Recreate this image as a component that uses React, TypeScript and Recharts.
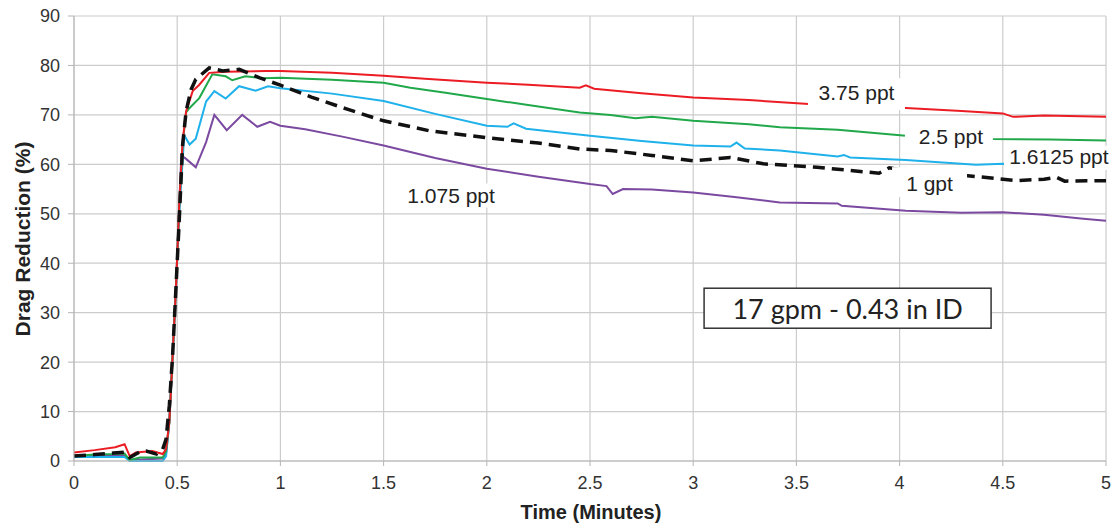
import { LineChart, Line, XAxis, YAxis, CartesianGrid, ReferenceDot, Label } from 'recharts';

// Drag reduction (%) vs time (minutes), digitised as [time, value]
const ppt375: [number, number][] = [
  [0, 1.7], [0.1, 2.2], [0.2, 2.8], [0.245, 3.4], [0.27, 1.0], [0.3, 1.7], [0.38, 2.0], [0.43, 1.4],
  [0.446, 2.4], [0.462, 7.9], [0.478, 21.5], [0.494, 35], [0.51, 52], [0.526, 64.5], [0.543, 70.7],
  [0.575, 74.8], [0.607, 76.1], [0.655, 78.5], [0.735, 78.7], [0.93, 78.9], [1.0, 78.9], [1.25, 78.5],
  [1.5, 77.9], [1.7, 77.3], [2.0, 76.5], [2.2, 76.1], [2.45, 75.5], [2.48, 76.0], [2.52, 75.3],
  [2.75, 74.4], [3.0, 73.5], [3.27, 73.0], [3.56, 72.2], [4.03, 71.4], [4.3, 70.8], [4.5, 70.3],
  [4.55, 69.6], [4.7, 69.9], [5.0, 69.6],
];

const ppt25: [number, number][] = [
  [0, 1.0], [0.1, 1.3], [0.2, 1.4], [0.245, 1.5], [0.27, 0.2], [0.32, 0.7], [0.43, 0.7], [0.446, 2],
  [0.462, 7.9], [0.478, 21.5], [0.494, 35], [0.51, 52], [0.526, 64], [0.543, 70.5], [0.56, 71.4],
  [0.607, 73.4], [0.67, 78.2], [0.735, 77.8], [0.767, 77.0], [0.83, 77.8], [0.91, 77.4], [1.0, 77.5],
  [1.25, 77.1], [1.5, 76.5], [1.63, 75.5], [1.8, 74.5], [2.0, 73.2], [2.2, 72.0], [2.45, 70.5],
  [2.6, 70.0], [2.72, 69.3], [2.8, 69.6], [3.0, 68.8], [3.27, 68.1], [3.42, 67.5], [3.7, 67.0],
  [4.03, 65.8], [4.45, 65.1], [4.73, 65.0], [5.0, 64.8],
];

const ppt16125: [number, number][] = [
  [0, 0.8], [0.2, 0.8], [0.245, 0.8], [0.27, 0], [0.43, 0], [0.446, 1], [0.462, 7.9], [0.478, 21.5],
  [0.494, 35], [0.51, 50], [0.534, 65.9], [0.56, 64.0], [0.59, 65.2], [0.64, 72.7], [0.68, 74.8],
  [0.735, 73.3], [0.8, 75.8], [0.88, 74.9], [0.94, 75.8], [1.0, 75.4], [1.25, 74.3], [1.5, 72.8],
  [1.75, 70.2], [2.0, 67.8], [2.1, 67.6], [2.13, 68.3], [2.19, 67.2], [2.5, 65.8], [2.75, 64.7],
  [3.0, 63.8], [3.18, 63.6], [3.21, 64.4], [3.25, 63.2], [3.42, 62.8], [3.7, 61.6], [3.73, 61.9],
  [3.76, 61.4], [4.03, 60.9], [4.37, 59.9], [4.5, 60.1], [5.0, 60.0],
];

const gpt1: [number, number][] = [
  [0, 1.0], [0.1, 1.3], [0.19, 1.6], [0.245, 1.8], [0.27, 0.7], [0.32, 1.9], [0.35, 2.0], [0.4, 1.4],
  [0.43, 2.4], [0.446, 4.4], [0.462, 11.3], [0.478, 21.5], [0.494, 35], [0.51, 48.8], [0.526, 63.8],
  [0.543, 70.7], [0.567, 75.1], [0.59, 77.2], [0.655, 79.5], [0.72, 78.9], [0.8, 79.2], [0.9, 77.5],
  [1.0, 76.0], [1.15, 73.6], [1.32, 71.2], [1.5, 68.8], [1.72, 66.8], [2.0, 65.4], [2.25, 64.3],
  [2.45, 63.1], [2.6, 62.8], [2.8, 61.8], [3.0, 60.7], [3.18, 61.4], [3.34, 60.1], [3.6, 59.4],
  [3.9, 58.2], [3.95, 59.3], [4.05, 58.6], [4.33, 57.7], [4.57, 56.7], [4.7, 57.0], [4.76, 57.4],
  [4.8, 56.6], [5.0, 56.7],
];

const ppt1075: [number, number][] = [
  [0, 1.0], [0.2, 1.2], [0.245, 1.2], [0.27, 0.2], [0.43, 0.5], [0.446, 1.5], [0.462, 7.9],
  [0.478, 21.5], [0.494, 35], [0.51, 52], [0.52, 61.8], [0.543, 61.1], [0.59, 59.4], [0.64, 64.5],
  [0.68, 70.0], [0.74, 66.9], [0.815, 70.0], [0.888, 67.6], [0.95, 68.6], [1.0, 67.8], [1.12, 67.1],
  [1.3, 65.6], [1.5, 63.8], [1.75, 61.3], [2.0, 59.1], [2.25, 57.5], [2.5, 56.0], [2.58, 55.6],
  [2.61, 54.0], [2.66, 55.0], [2.8, 54.9], [3.0, 54.3], [3.2, 53.4], [3.42, 52.3], [3.7, 52.1],
  [3.72, 51.6], [4.03, 50.6], [4.3, 50.2], [4.5, 50.3], [4.7, 49.8], [4.89, 49.0], [5.0, 48.6],
];

const xTicks = [0, 0.5, 1, 1.5, 2, 2.5, 3, 3.5, 4, 4.5, 5];
const yTicks = [0, 10, 20, 30, 40, 50, 60, 70, 80, 90];

const toPoints = (arr: [number, number][]) => arr.map(([t, v]) => ({ t, v }));

const FONT = '"Liberation Sans", Arial, sans-serif';
const AXIS = '#b5b5b5';

// white box with text drawn at a data point, hides the line under it
function tag(text: string, w: number, h: number, dx = 0, dy = 0, boxed = false) {
  return (props: any) => {
    const { cx, cy } = props;
    return (
      <g>
        <rect
          x={cx - w / 2}
          y={cy - h / 2}
          width={w}
          height={h}
          fill="#fff"
          stroke={boxed ? '#333' : 'none'}
          strokeWidth={boxed ? 1.5 : 0}
        />
        <text
          x={cx + dx}
          y={cy + dy}
          textAnchor="middle"
          dominantBaseline="central"
          fontFamily={boxed ? 'Lato, "Open Sans", sans-serif' : FONT}
          fontSize={boxed ? 27 : 21}
          fill="#222"
        >
          {text}
        </text>
      </g>
    );
  };
}

export default function App() {
  return (
    <div style={{ position: 'absolute', left: 0, top: 0, background: '#fff' }}>
      <LineChart width={1116} height={529} margin={{ top: 16, right: 10, bottom: 0, left: 14 }}>
        <CartesianGrid stroke="#cccccc" strokeWidth={1.2} />
        <XAxis
          dataKey="t"
          type="number"
          domain={[0, 5]}
          ticks={xTicks}
          height={68}
          tickSize={5}
          tickMargin={10}
          stroke={AXIS}
          tick={{ fill: '#333', fontSize: 18, fontFamily: FONT }}
        >
          <Label
            content={() => (
              <text x={591} y={519} textAnchor="middle" fontFamily={FONT} fontSize={20} fontWeight="bold" fill="#222">
                Time (Minutes)
              </text>
            )}
          />
        </XAxis>
        <YAxis
          type="number"
          domain={[0, 90]}
          ticks={yTicks}
          width={60}
          tickSize={6}
          tickMargin={8}
          stroke={AXIS}
          tick={{ fill: '#333', fontSize: 18, fontFamily: FONT }}
        >
          <Label
            content={() => (
              <text
                x={22}
                y={239}
                transform="rotate(-90, 22, 239)"
                textAnchor="middle"
                dominantBaseline="central"
                fontFamily={FONT}
                fontSize={21}
                fontWeight="bold"
                fill="#222"
              >
                Drag Reduction (%)
              </text>
            )}
          />
        </YAxis>
        <Line data={toPoints(ppt1075)} dataKey="v" stroke="#7b4aa0" strokeWidth={2} dot={false} isAnimationActive={false} />
        <Line data={toPoints(ppt16125)} dataKey="v" stroke="#1fb1ea" strokeWidth={2} dot={false} isAnimationActive={false} />
        <Line data={toPoints(ppt25)} dataKey="v" stroke="#20a84a" strokeWidth={2} dot={false} isAnimationActive={false} />
        <Line data={toPoints(ppt375)} dataKey="v" stroke="#ec1c24" strokeWidth={2} dot={false} isAnimationActive={false} />
        <Line
          data={toPoints(gpt1)}
          dataKey="v"
          stroke="#111"
          strokeWidth={3.5}
          strokeDasharray="12 7"
          dot={false}
          isAnimationActive={false}
        />
        <ReferenceDot x={3.791} y={74.2} r={0} shape={tag('3.75 ppt', 97, 32, 0, -2)} />
        <ReferenceDot x={4.239} y={65.7} r={0} shape={tag('2.5 ppt', 88, 24, 2, 0)} />
        <ReferenceDot x={4.777} y={61.3} r={0} shape={tag('1.6125 ppt', 112, 24, -1, -1)} />
        <ReferenceDot x={4.145} y={56.4} r={0} shape={tag('1 gpt', 75, 30, 0, 1)} />
        <ReferenceDot x={1.827} y={53.7} r={0} shape={tag('1.075 ppt', 96, 24)} />
        <ReferenceDot x={3.748} y={30.9} r={0} shape={tag('17 gpm - 0.43 in ID', 287, 40, 0, 0, true)} />
      </LineChart>
    </div>
  );
}
